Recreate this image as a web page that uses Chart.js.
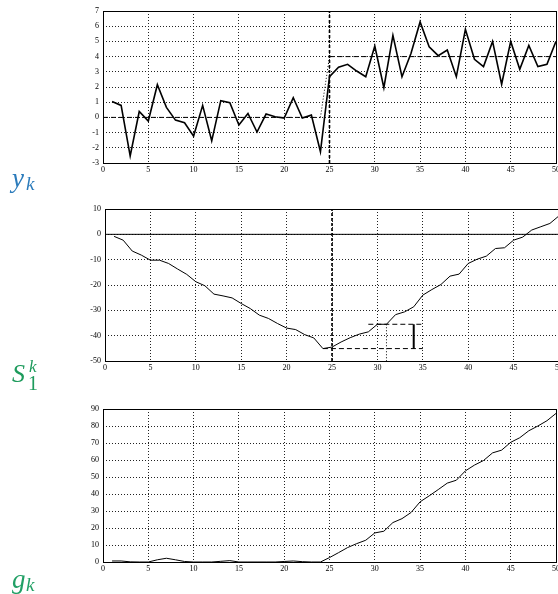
<!DOCTYPE html>
<html><head><meta charset="utf-8">
<script src="https://cdn.jsdelivr.net/npm/chart.js@4/dist/chart.umd.min.js"></script>
<style>
html,body{margin:0;padding:0;background:#fff;overflow:hidden;width:558px;height:594px;position:relative}
.p{position:absolute;left:0;width:600px}
.lab{position:absolute;font-family:"Liberation Serif","DejaVu Serif",serif;font-style:italic;line-height:1;white-space:nowrap}
.lab span{position:absolute}
</style></head><body>
<div class="p" style="top:0;height:185px"><canvas id="c1" width="600" height="185"></canvas></div>
<div class="p" style="top:185px;height:195px"><canvas id="c2" width="600" height="195"></canvas></div>
<div class="p" style="top:380px;height:214px"><canvas id="c3" width="600" height="214"></canvas></div>

<div class="lab" style="left:12px;top:165px;color:#2b7bbb;font-size:27px;width:40px;height:30px">
  <span style="left:0;top:0">y</span><span style="left:14px;top:9px;font-size:19px">k</span></div>
<div class="lab" style="left:12px;top:361px;color:#1d9b5c;font-size:26px;width:40px;height:34px">
  <span style="left:0;top:0">S</span><span style="left:17px;top:-3px;font-size:17px">k</span><span style="left:16px;top:12px;font-size:20px;font-style:normal">1</span></div>
<div class="lab" style="left:12px;top:566px;color:#22a066;font-size:27px;width:40px;height:30px">
  <span style="left:0;top:0">g</span><span style="left:14px;top:9px;font-size:19px">k</span></div>

<script>
// ---- data ----
const kSteps = [1,2,3,4,5,6,7,8,9,10,11,12,13,14,15,16,17,18,19,20,21,22,23,24,25,
                26,27,28,29,30,31,32,33,34,35,36,37,38,39,40,41,42,43,44,45,46,47,48,49,50];
const yk = [1.05,0.79,-2.54,0.39,-0.24,2.15,0.66,-0.18,-0.35,-1.23,0.79,-1.54,1.10,0.96,-0.5,
            0.26,-0.96,0.22,0.04,-0.04,1.29,-0.04,0.15,-2.26,2.68,3.30,3.49,3.05,2.68,4.70,
            1.95,5.40,2.68,4.22,6.28,4.65,4.06,4.43,2.68,5.79,3.82,3.34,5.0,2.18,5.0,3.16,4.74,3.34,3.49,5.0];
const S1k = [-0.8,-2.3,-6.6,-8.2,-10.2,-10.2,-11.5,-13.7,-15.8,-18.7,-20.3,-23.6,-24.3,-25.1,-27.3,
             -29.3,-31.9,-33.2,-35.2,-37.0,-37.6,-39.6,-40.9,-45.1,-44.5,-42.5,-40.8,-39.4,-38.5,-35.5,
             -35.5,-31.7,-30.6,-28.6,-24.0,-21.8,-19.8,-16.5,-15.7,-11.5,-9.8,-8.6,-5.6,-5.3,-2.3,-1.1,1.7,3.0,4.3,7.3];
const gk = [0.6,0.6,0.1,0,0,1.3,2.2,1.3,0.3,0,0,0,0.4,0.8,0,0,0,0,0,0.3,0.6,0.2,0,0,2.6,
            5.5,8.5,10.8,12.8,17.1,18.1,23.2,25.5,29.1,35.4,38.9,42.6,46.4,48.1,53.6,57.0,59.7,64.2,65.8,70.4,
            73.1,77.2,80.0,83.1,87.4];
// tick labels
const xTicks = [0,5,10,15,20,25,30,35,40,45,50];
const yTicks1 = [-3,-2,-1,0,1,2,3,4,5,6,7];
const yTicks2 = [-50,-40,-30,-20,-10,0,10];
const yTicks3 = [0,10,20,30,40,50,60,70,80,90];
// annotation lines
const changeK = [25,25];
const meanX = [0,24,25,50];
const meanY = [0,0,4,4];
const zeroX = [0,50], zeroY = [0,0];
const minLineX = [24,35], minLineY = [-45.1,-45.1];
const upLineX = [29,35], upLineY = [-35.5,-35.5];
const alarmX = [31,31], alarmY = [-35.5,-50];
const threshX = [34,34], threshY = [-45.1,-35.5];

function pts(xs, ys){ return xs.map((x,i)=>({x:x, y:ys[i]})); }

const tickFont = {family:'"Liberation Serif","DejaVu Serif",serif', size:8};
const boxPlugin = {
  id:'box',
  afterDraw(chart){
    const a = chart.chartArea, c = chart.ctx;
    c.save(); c.strokeStyle='#000'; c.lineWidth=1; c.setLineDash([]);
    c.strokeRect(Math.round(a.left)+0.5, Math.round(a.top)+0.5, Math.round(a.right-a.left), Math.round(a.bottom-a.top));
    c.restore();
  }
};

function makeChart(id, cfg){
  const ticksY = cfg.yTicks;
  return new Chart(document.getElementById(id), {
    type:'line',
    data:{datasets:cfg.datasets},
    options:{
      responsive:false, animation:false, events:[],
      layout:{padding:{left:0,top:cfg.top,right:600-cfg.right,bottom:0}},
      plugins:{legend:{display:false},tooltip:{enabled:false}},
      elements:{point:{radius:0},line:{tension:0,fill:false}},
      scales:{
        x:{type:'linear', min:xTicks[0], max:xTicks[xTicks.length-1],
           afterBuildTicks(s){ s.ticks = xTicks.map(v=>({value:v})); },
           afterFit(s){ s.height = cfg.xh; s.paddingLeft=0; s.paddingRight=0; },
           ticks:{font:tickFont,color:'#000',padding:2,maxRotation:0,autoSkip:false},
           grid:{color:'#222',lineWidth:1,drawTicks:false},
           border:{display:false,dash:[1,2]}},
        y:{type:'linear', min:ticksY[0], max:ticksY[ticksY.length-1],
           afterBuildTicks(s){ s.ticks = ticksY.map(v=>({value:v})); },
           afterFit(s){ s.width = cfg.left; s.paddingTop=0; s.paddingBottom=0; },
           ticks:{font:tickFont,color:'#000',padding:4,autoSkip:false},
           grid:{color:'#222',lineWidth:1,drawTicks:false},
           border:{display:false,dash:[1,2]}}
      }
    },
    plugins:[boxPlugin]
  });
}

const base = {pointRadius:0, borderColor:'#000', backgroundColor:'#000'};

makeChart('c1', {top:11, right:556, left:103, xh:22, yTicks:yTicks1, datasets:[
  Object.assign({}, base, {data:pts(kSteps,yk), borderWidth:1.6}),
  Object.assign({}, base, {data:pts(meanX,meanY), borderWidth:1,
     segment:{borderDash: ctx => ctx.p0DataIndex===1 ? [1,2] : [5,3]}}),
  Object.assign({}, base, {data:pts(changeK,[yTicks1[0],yTicks1[yTicks1.length-1]]), borderWidth:1.6, borderDash:[3,2]})
]});

makeChart('c2', {top:24, right:559, left:105, xh:19, yTicks:yTicks2, datasets:[
  Object.assign({}, base, {data:pts(kSteps,S1k), borderWidth:1}),
  Object.assign({}, base, {data:pts(zeroX,zeroY), borderWidth:1}),
  Object.assign({}, base, {data:pts(changeK,[yTicks2[0],yTicks2[yTicks2.length-1]]), borderWidth:1.6, borderDash:[3,2]}),
  Object.assign({}, base, {data:pts(minLineX,minLineY), borderWidth:1, borderDash:[5,3]}),
  Object.assign({}, base, {data:pts(upLineX,upLineY), borderWidth:1, borderDash:[5,3]}),
  Object.assign({}, base, {data:pts(alarmX,alarmY), borderWidth:1, borderDash:[1,2]}),
  Object.assign({}, base, {data:pts(threshX,threshY), borderWidth:2})
]});

makeChart('c3', {top:29, right:556, left:103, xh:32, yTicks:yTicks3, datasets:[
  Object.assign({}, base, {data:pts(kSteps,gk), borderWidth:1})
]});
</script>
</body></html>
